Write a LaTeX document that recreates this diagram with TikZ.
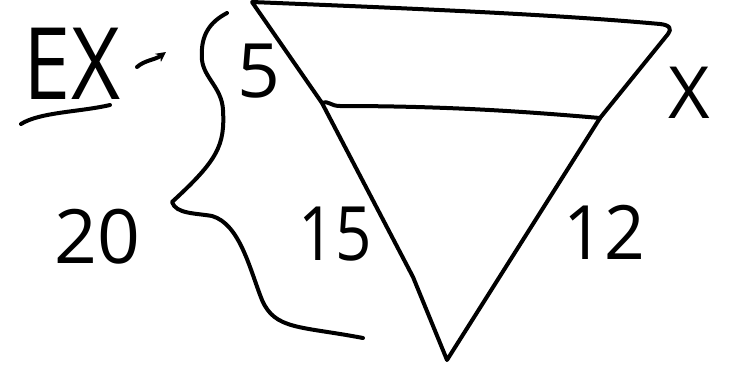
\documentclass[tikz,border=0pt]{standalone}
\usepackage{fontspec}
\setmainfont{Open Sans}
\usetikzlibrary{arrows.meta}
\begin{document}
\begin{tikzpicture}[x=1pt,y=-1pt,
  ink/.style={line width=4pt,line cap=round,line join=round,black},
  lbl/.style={inner sep=0pt,font=\fontsize{75}{75}\selectfont}]
\useasboundingbox (0,0) rectangle (731,370);
% triangle vertices
\coordinate (tl) at (252,2);
\coordinate (tr) at (668,30);
\coordinate (bt) at (447,360);
\coordinate (ml) at (322,103);
\coordinate (mr) at (600,118);
\coordinate (lk) at (413,277);
% outer triangle
\draw[ink] (tl) .. controls (400,8) and (550,14) .. (660,24)
  .. controls (670,25) and (672,29) .. (668,34) -- (mr) -- (bt) -- (lk) -- (ml) -- cycle;
% inner parallel line
\draw[ink] (ml) .. controls (328,100) and (330,106) .. (340,106) .. controls (450,106) and (530,112) .. (mr);
% brace
\coordinate (b0) at (227,13);
\coordinate (btip) at (172,202);
\coordinate (b1) at (363,338);
\draw[ink] (b0) .. controls (210,22) and (200,35) .. (202,60)
  .. controls (204,78) and (222,88) .. (223,110)
  .. controls (225,145) and (218,160) .. (btip)
  .. controls (176,214) and (195,213) .. (212,216)
  .. controls (240,224) and (250,270) .. (262,300)
  .. controls (275,330) and (300,326) .. (b1);
% labels
\node[lbl] (five) at (259,71) {5};
\node[lbl,xscale=0.85] (fifteen) at (335,234) {15};
\node[lbl,xscale=0.95] (twelve) at (604,232) {12};
\node[lbl] (twenty) at (97,237) {20};
\node[lbl,font=\fontsize{72}{72}\selectfont] (x) at (689,93) {X};
\node[lbl,font=\fontsize{100}{100}\selectfont,xscale=0.85] (ex) at (72,64) {EX};
% underline and arrow
\coordinate (u0) at (21,124);
\coordinate (u1) at (110,105);
\draw[ink] (u0) .. controls (40,112) and (80,112) .. (u1);
\coordinate (a0) at (137,67);
\coordinate (a1) at (166,52);
\draw[ink,-{Stealth[length=10pt,width=10pt]}] (a0) .. controls (145,60) and (155,60) .. (a1);
\end{tikzpicture}
\end{document}
